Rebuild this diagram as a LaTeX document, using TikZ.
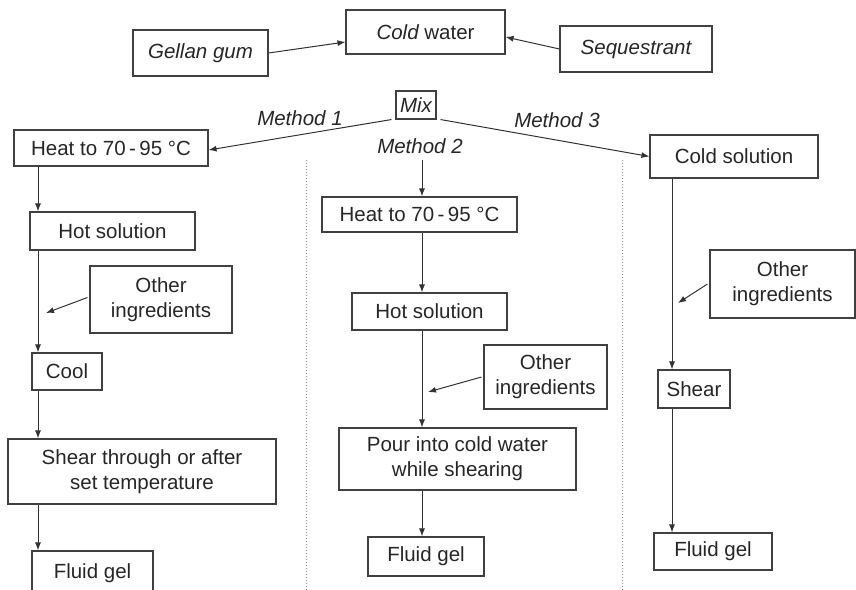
\documentclass[tikz,border=0pt]{standalone}
\usepackage{fontspec}
\setmainfont{Liberation Sans}
\usetikzlibrary{arrows.meta}
\begin{document}
\begin{tikzpicture}[x=1pt,y=-1pt,
  box/.style={draw=black!75, line width=1.1pt, inner sep=0pt, align=center,
    font=\fontsize{20.5}{25}\selectfont, text=black!85},
  arr/.style={draw=black!80, line width=1pt, -{Latex[length=8pt,width=6pt]}},
  lab/.style={font=\itshape\fontsize{20.5}{24}\selectfont, text=black!85},
  sep/.style={draw=black!45, line width=1pt, dotted}]
\useasboundingbox (0,0) rectangle (856,589);
\clip (0,0) rectangle (856,589);
% top
\node[box, minimum width=135pt, minimum height=46pt] (gellan) at (200.5,53) {\itshape Gellan gum};
\node[box, minimum width=159pt, minimum height=44pt] (cold) at (425.5,32) {{\itshape Cold} water};
\node[box, minimum width=152pt, minimum height=46pt] (seq) at (636,49) {\itshape Sequestrant};
\node[box, minimum width=40pt, minimum height=28pt] (mix) at (416,105) {\itshape Mix};
\node[lab] (m1) at (300,118) {Method 1};
\node[lab] (m2) at (420,146) {Method 2};
\node[lab] (m3) at (557,120) {Method 3};
% left column
\node[box, minimum width=194pt, minimum height=36pt] (heatL) at (111,148) {Heat to 70\,-\,95 °C};
\node[box, minimum width=165pt, minimum height=38pt] (hotL) at (112.5,231) {Hot solution};
\node[box, minimum width=142pt, minimum height=67pt] (othL) at (161,299.5) {Other\\ingredients};
\node[box, minimum width=70pt, minimum height=37pt] (cool) at (67,371.5) {Cool};
\node[box, minimum width=268pt, minimum height=65pt] (shearL) at (142,471.5) {Shear through or after\\set temperature};
\node[box, minimum width=121pt, minimum height=44pt] (fluidL) at (92.5,573) {Fluid gel};
% middle column
\node[box, minimum width=195pt, minimum height=35pt] (heatM) at (419.5,214.5) {Heat to 70\,-\,95 °C};
\node[box, minimum width=155pt, minimum height=37pt] (hotM) at (429.5,311.5) {Hot solution};
\node[box, minimum width=123pt, minimum height=64pt] (othM) at (545.5,377) {Other\\ingredients};
\node[box, minimum width=237pt, minimum height=62pt] (pour) at (457.5,459) {Pour into cold water\\while shearing};
\node[box, minimum width=116pt, minimum height=39pt] (fluidM) at (426,556.5) {Fluid gel};
% right column
\node[box, minimum width=168pt, minimum height=43pt] (coldS) at (734,156.5) {Cold solution};
\node[box, minimum width=145pt, minimum height=68pt] (othR) at (782.5,284) {Other\\ingredients};
\node[box, minimum width=72pt, minimum height=38pt] (shearR) at (694,389) {Shear};
\node[box, minimum width=118pt, minimum height=37pt] (fluidR) at (713,551.5) {Fluid gel};
% column coordinates
\coordinate (cL) at (38,0);
\coordinate (cM) at (422,0);
\coordinate (cR) at (672,0);
\coordinate (m2top) at (422,160);
\coordinate (jL) at (46,313);
\coordinate (jM) at (428,392);
\coordinate (jR) at (678,303);
\coordinate (sepLa) at (306,160);
\coordinate (sepLb) at (306,592);
\coordinate (sepRa) at (622,160);
\coordinate (sepRb) at (622,592);
% separators
\draw[sep] (sepLa) -- (sepLb);
\draw[sep] (sepRa) -- (sepRb);
% top arrows
\draw[arr] (gellan.east) -- ([yshift=-10pt]cold.west);
\draw[arr] (seq.west) -- ([yshift=-5pt]cold.east);
\draw[arr] ([xshift=-4pt]mix.south west) -- ([yshift=-2pt]heatL.east);
\draw[arr] ([xshift=4pt]mix.south east) -- (coldS.west);
\draw[arr] (m2top) -- (heatM.north -| m2top);
% left arrows
\draw[arr] (heatL.south -| cL) -- (hotL.north -| cL);
\draw[arr] (hotL.south -| cL) -- (cool.north -| cL);
\draw[arr] ([xshift=-2pt,yshift=2pt]othL.west) -- (jL);
\draw[arr] (cool.south -| cL) -- (shearL.north -| cL);
\draw[arr] (shearL.south -| cL) -- (fluidL.north -| cL);
% middle arrows
\draw[arr] (heatM.south -| cM) -- (hotM.north -| cM);
\draw[arr] (hotM.south -| cM) -- (pour.north -| cM);
\draw[arr] ([xshift=-2pt]othM.west) -- (jM);
\draw[arr] (pour.south -| cM) -- (fluidM.north -| cM);
% right arrows
\draw[arr] (coldS.south -| cR) -- (shearR.north -| cR);
\draw[arr] ([xshift=-2pt]othR.west) -- (jR);
\draw[arr] (shearR.south -| cR) -- (fluidR.north -| cR);
\end{tikzpicture}
\end{document}
